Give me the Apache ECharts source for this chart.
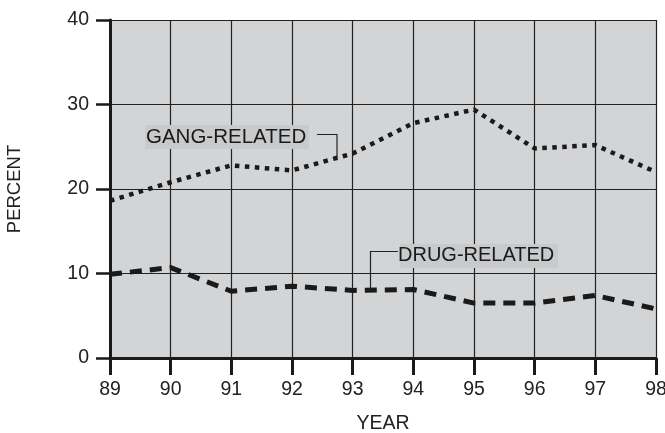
<!DOCTYPE html>
<html><head><meta charset="utf-8">
<script src="https://cdn.jsdelivr.net/npm/echarts@6/dist/echarts.min.js"></script>
<style>html,body{margin:0;padding:0;background:#fff}#c{width:665px;height:433px}</style>
</head><body><div id="c"></div>
<script>
const years = ['89','90','91','92','93','94','95','96','97','98'];
const gangRelated = [18.6, 20.8, 22.8, 22.2, 24.2, 27.8, 29.4, 24.8, 25.2, 22.0];
const drugRelated = [9.9, 10.7, 7.9, 8.5, 8.0, 8.1, 6.5, 6.5, 7.4, 5.8];
const yTicks = [0, 10, 20, 30, 40];

const FONT = '"Liberation Sans", Arial, sans-serif';
const chart = echarts.init(document.getElementById('c'));
chart.setOption({
  animation: false,
  backgroundColor: '#ffffff',
  grid: {left: 110, right: 9, top: 20, bottom: 75, show: true, backgroundColor: '#d3d4d6', borderWidth: 0,
         containLabel: false, outerBoundsMode: 'none'},
  xAxis: {
    type: 'category', data: years, boundaryGap: false,
    name: 'YEAR', nameLocation: 'middle', nameGap: 56,
    nameTextStyle: {fontFamily: FONT, fontSize: 19.5, color: '#222'},
    axisLine: {lineStyle: {color: '#1a1a1a', width: 3}},
    axisTick: {show: true, length: 17, inside: false, lineStyle: {color: '#1a1a1a', width: 3}},
    axisLabel: {margin: 22, fontFamily: FONT, fontSize: 19.5, color: '#222'},
    splitLine: {show: true, lineStyle: {color: '#222', width: 1.2}}
  },
  yAxis: {
    type: 'value', min: yTicks[0], max: yTicks[yTicks.length-1], interval: 10,
    name: 'PERCENT', nameLocation: 'middle', nameGap: 86,
    nameTextStyle: {fontFamily: FONT, fontSize: 18.5, color: '#222'},
    axisLine: {show: true, lineStyle: {color: '#1a1a1a', width: 3}},
    axisTick: {show: true, length: 14, lineStyle: {color: '#1a1a1a', width: 2.5}},
    axisLabel: {margin: 21, fontFamily: FONT, fontSize: 19.5, color: '#222'},
    splitLine: {show: true, lineStyle: {color: '#222', width: 1.2}}
  },
  series: [
    {name: 'GANG-RELATED', type: 'line', data: gangRelated, symbol: 'none',
     lineStyle: {color: '#1a1a1a', width: 4.5, type: [4.5, 5.5], cap: 'butt'}, z: 5},
    {name: 'DRUG-RELATED', type: 'line', data: drugRelated, symbol: 'none',
     lineStyle: {color: '#1a1a1a', width: 5, type: [12, 8], cap: 'butt'}, z: 5}
  ],
  graphic: [
    {type: 'rect', shape: {x: 145, y: 125, width: 164, height: 24}, style: {fill: '#c9cacc'}, z: 10},
    {type: 'text', x: 146, y: 137, style: {text: 'GANG-RELATED', font: '20.5px ' + FONT, fill: '#1a1a1a', textVerticalAlign: 'middle'}, z: 11},
    {type: 'polyline', shape: {points: [[317, 134.5], [337, 134.5], [337, 158]]}, style: {stroke: '#222', lineWidth: 1.2, fill: null}, z: 11},
    {type: 'rect', shape: {x: 400, y: 244, width: 158, height: 24}, style: {fill: '#c9cacc'}, z: 10},
    {type: 'text', x: 398, y: 255.5, style: {text: 'DRUG-RELATED', font: '20px ' + FONT, fill: '#1a1a1a', textVerticalAlign: 'middle'}, z: 11},
    {type: 'polyline', shape: {points: [[398, 251.5], [370.5, 251.5], [370.5, 290]]}, style: {stroke: '#222', lineWidth: 1.2, fill: null}, z: 11}
  ]
});
</script></body></html>
